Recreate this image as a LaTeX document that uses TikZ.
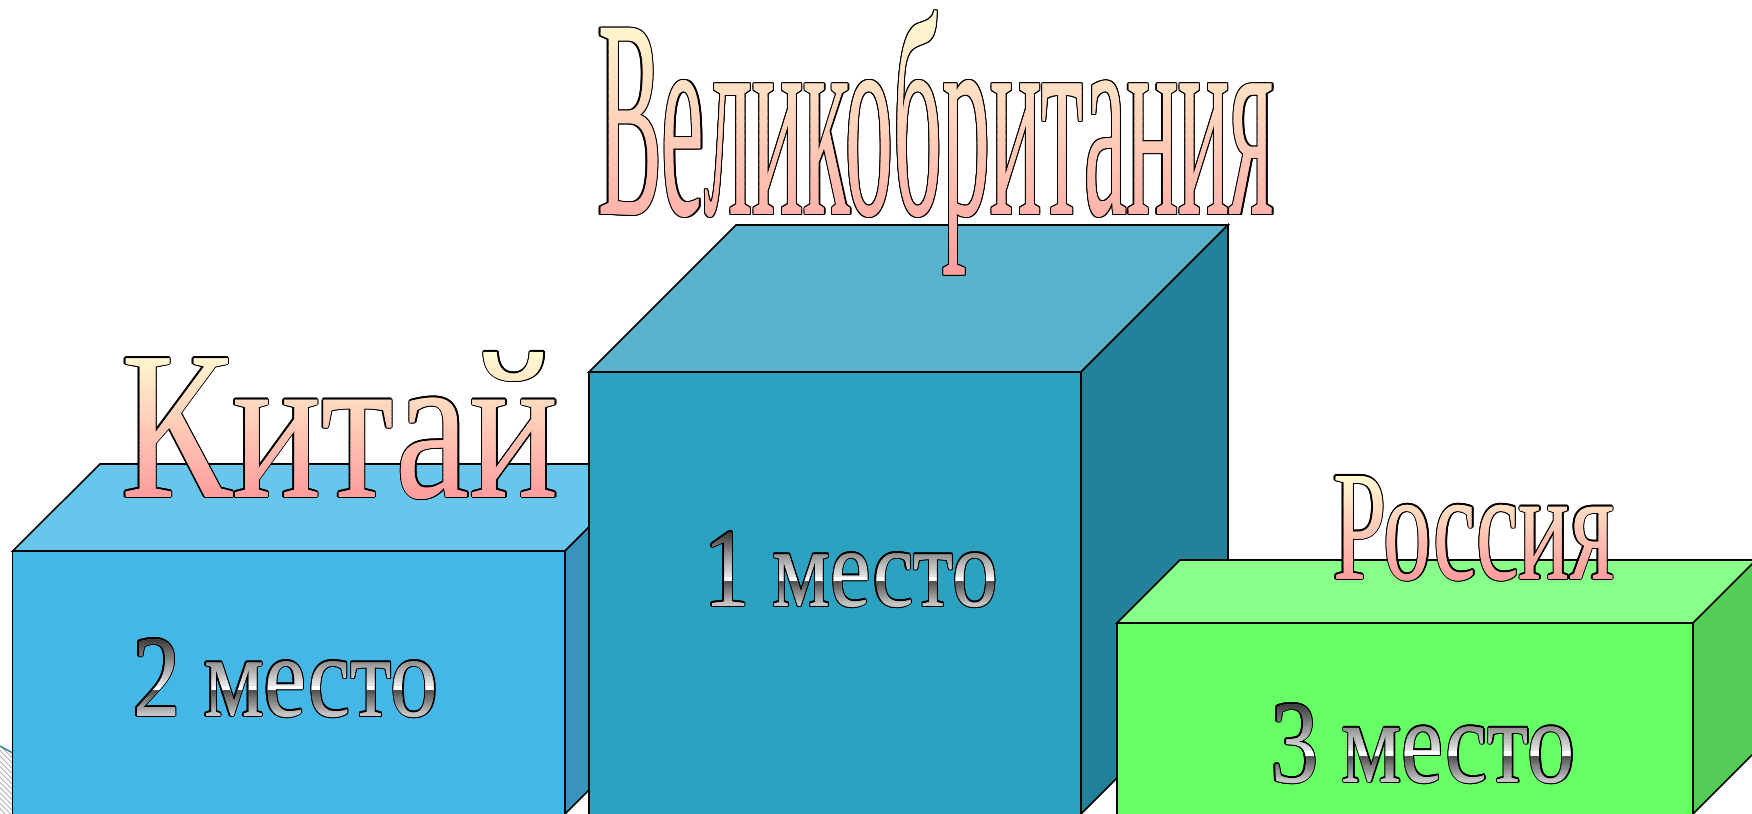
\documentclass[tikz,border=0pt]{standalone}
\usepackage{fontspec}
\setmainfont{Liberation Serif}
\usetikzlibrary{patterns}
\definecolor{lfront}{HTML}{45B7E6}
\definecolor{ltop}{HTML}{68C6EC}
\definecolor{lside}{HTML}{3A93BD}
\definecolor{mfront}{HTML}{2CA2C0}
\definecolor{mtop}{HTML}{59B3CC}
\definecolor{mside}{HTML}{23829A}
\definecolor{gfront}{HTML}{66FF66}
\definecolor{gtop}{HTML}{88FF88}
\definecolor{gside}{HTML}{55CC55}
\definecolor{hatchedge}{HTML}{2A7F8F}
\definecolor{peachmid}{HTML}{FFD2B8}
\definecolor{metalmid}{HTML}{A0A0A0}
\newlength\pxu \setlength\pxu{0.02cm}
\newcommand\txtchina{\resizebox{438\pxu}{145\pxu}{Китай}}
\newcommand\txtgb{\resizebox{676\pxu}{203.5\pxu}{Великобритания}}
\newcommand\txtrus{\resizebox{281\pxu}{103\pxu}{Россия}}
\newcommand\txtfirst{\resizebox{294\pxu}{74\pxu}{1 место}}
\newcommand\txtsecond{\resizebox{305\pxu}{77\pxu}{2 место}}
\newcommand\txtthird{\resizebox{304\pxu}{78\pxu}{3 место}}
\newcommand\peachcol{\pgfmathsetmacro\cgv{0.984-0.37*\bandt}\pgfmathsetmacro\cbv{0.82-0.2*\bandt}\definecolor{bandc}{rgb}{1,\cgv,\cbv}}
\newcommand\metalcol{\pgfmathsetmacro\gv{\bandt<0.62 ? 0.22+1.13*\bandt : (\bandt<0.67 ? 1 : 0.3+1.5*(\bandt-0.67))}\definecolor{bandc}{gray}{\gv}}
\tikzset{
  artcopy/.style={inner sep=0pt, outer sep=0pt, anchor=base west},
  boxline/.style={draw=black, line width=0.9pt, line join=miter}
}
% #1 name, #2 x, #3 baseline, #4 width, #5 text macro, #6 ytop, #7 ybottom, #8 colour rule, #9 mid colour
\newcommand\arttext[9]{%
  \foreach \ang in {0,30,...,330}{\node[artcopy] at ([shift={(\ang:0.75pt)}]#2,#3) {\color{black}#5};}%
  \node[artcopy] at (#2,#3) {\color{#9}#5};%
  \pgfmathsetmacro\bandh{(#7-#6)/36}%
  \foreach \i in {1,...,36}{%
    \pgfmathsetmacro\bandt{(\i-0.5)/36}%
    #8%
    \pgfmathsetmacro\ya{\i==1 ? #6-40 : #6+(\i-1)*\bandh}%
    \pgfmathsetmacro\yb{\i==36 ? #7+40 : #6+\i*\bandh+0.4}%
    \begin{scope}
      \clip ({#2-30},\ya) rectangle ({#2+#4+30},\yb);
      \node[artcopy] at (#2,#3) {\color{bandc}#5};
    \end{scope}}%
  \node[artcopy,name=#1] at (#2,#3) {\phantom{#5}};%
}
\begin{document}
\begin{tikzpicture}[x=0.02cm,y=-0.02cm]
\useasboundingbox (0,0) rectangle (1752,814);
% hatched fragment at lower left
\fill[pattern=north west lines, pattern color=gray!70] (0,746) -- (12.7,753) -- (12.7,814) -- (0,814) -- cycle;
\draw[hatchedge, line width=0.8pt] (0,746) -- (12.7,753);
% left box (2nd place)
\filldraw[boxline, fill=ltop] (12.7,551) -- (100,464) -- (652,464) -- (565,551) -- cycle;
\filldraw[boxline, fill=lside] (565,551) -- (652,464) -- (652,727) -- (565,814) -- cycle;
\fill[lfront] (12.7,551) rectangle (565,816);
\draw[boxline] (12.7,816) -- (12.7,551) -- (565,551) -- (565,816);
% middle box (1st place)
\filldraw[boxline, fill=mtop] (589,372) -- (736,225) -- (1228,225) -- (1081,372) -- cycle;
\filldraw[boxline, fill=mside] (1081,372) -- (1228,225) -- (1228,667) -- (1081,814) -- cycle;
\fill[mfront] (589,372) rectangle (1081,816);
\draw[boxline] (589,816) -- (589,372) -- (1081,372) -- (1081,816);
% right box (3rd place)
\filldraw[boxline, fill=gtop] (1117,623) -- (1180,560) -- (1760,560) -- (1693,623) -- cycle;
\filldraw[boxline, fill=gside] (1693,623) -- (1756,560) -- (1756,751) -- (1693,814) -- cycle;
\fill[gfront] (1117,623) rectangle (1693,816);
\draw[boxline] (1117,816) -- (1117,623) -- (1693,623) -- (1693,816);
% country names
\arttext{china}{121}{497}{438}{\txtchina}{352}{497}{\peachcol}{peachmid}
\arttext{gb}{598}{214.5}{676}{\txtgb}{11}{275}{\peachcol}{peachmid}
\arttext{russia}{1333}{579}{281}{\txtrus}{476}{579}{\peachcol}{peachmid}
% places
\arttext{first}{704}{606}{294}{\txtfirst}{532}{606}{\metalcol}{metalmid}
\arttext{second}{133}{716}{305}{\txtsecond}{639}{716}{\metalcol}{metalmid}
\arttext{third}{1271}{782}{304}{\txtthird}{704}{782}{\metalcol}{metalmid}
\end{tikzpicture}
\end{document}
